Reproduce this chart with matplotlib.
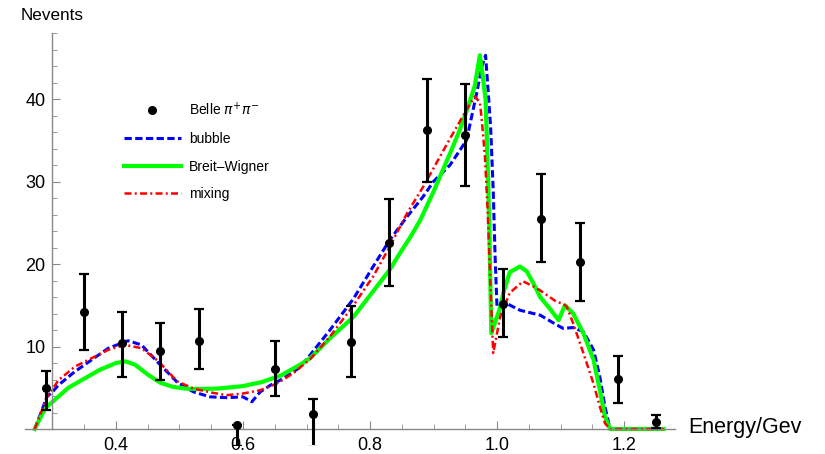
import numpy as np
import matplotlib.pyplot as plt
from matplotlib.ticker import MultipleLocator


#(0) Data:
# Belle pi+ pi- events with (lower, upper) errors
belle_E   = [0.29, 0.35, 0.41, 0.47, 0.53, 0.59, 0.65, 0.71, 0.77, 0.83, 0.89,
             0.95, 1.01, 1.07, 1.13, 1.19, 1.25]
belle_N   = [5.0, 14.2, 10.4, 9.4, 10.7, 0.5, 7.3, 1.8, 10.6, 22.6, 36.2,
             35.6, 15.2, 25.5, 20.2, 6.1, 0.9]
belle_lo  = [2.7, 4.6, 4.1, 3.5, 3.4, 2.6, 3.3, 4.0, 4.3, 5.3, 6.3,
             6.2, 4.1, 5.2, 4.7, 2.9, 0.8]
belle_hi  = [2.0, 4.6, 3.8, 3.5, 3.9, 0.0, 3.4, 1.8, 4.3, 5.3, 6.2,
             6.2, 4.2, 5.4, 4.8, 2.7, 0.8]

# bubble model
bubble_E  = [0.272, 0.285, 0.291, 0.300, 0.309, 0.335, 0.362, 0.388, 0.419,
             0.440, 0.467, 0.496, 0.522, 0.548, 0.575, 0.600, 0.614, 0.627,
             0.643, 0.663, 0.690, 0.706, 0.737, 0.774, 0.805, 0.831, 0.858,
             0.884, 0.900, 0.926, 0.952, 0.968, 0.976, 0.982, 0.986, 0.990,
             0.994, 0.997, 1.000, 1.013, 1.036, 1.068, 1.090, 1.104, 1.120,
             1.136, 1.152, 1.162, 1.170, 1.178, 1.262]
bubble_N  = [0.0, 2.6, 3.9, 4.5, 5.3, 6.95, 8.4, 9.8, 10.7,
             10.2, 8.0, 5.7, 4.5, 3.9, 3.8, 3.9, 3.3, 4.5,
             5.3, 6.1, 7.5, 9.0, 12.0, 15.8, 19.7, 22.9, 25.7,
             28.2, 30.0, 32.0, 35.0, 40.7, 43.9, 45.3, 41.0, 36.5,
             29.0, 20.9, 14.8, 15.3, 14.4, 13.8, 12.8, 12.2, 12.3,
             11.8, 9.6, 6.3, 2.7, 0.0, 0.0]

# Breit-Wigner model
bw_E      = [0.272, 0.285, 0.291, 0.300, 0.325, 0.350, 0.375, 0.400, 0.415,
             0.430, 0.450, 0.470, 0.490, 0.510, 0.530, 0.560, 0.600, 0.630,
             0.660, 0.690, 0.706, 0.737, 0.774, 0.800, 0.831, 0.847, 0.863,
             0.879, 0.899, 0.912, 0.926, 0.940, 0.952, 0.965, 0.973, 0.978,
             0.982, 0.986, 0.988, 0.991, 1.004, 1.010, 1.020, 1.036, 1.047,
             1.057, 1.068, 1.083, 1.097, 1.107, 1.120, 1.136, 1.152, 1.162,
             1.170, 1.178, 1.262]
bw_N      = [0.0, 2.0, 2.7, 3.3, 5.0, 6.1, 7.2, 8.0, 8.2,
             7.8, 6.6, 5.6, 5.1, 4.9, 4.85, 4.9, 5.2, 5.7,
             6.5, 7.8, 8.6, 11.0, 13.6, 16.2, 19.3, 21.3, 23.2,
             25.3, 28.6, 30.9, 33.4, 36.0, 38.5, 41.6, 45.3, 42.5,
             39.9, 30.2, 24.0, 11.6, 14.5, 16.5, 19.0, 19.7, 19.1,
             17.7, 16.0, 14.6, 13.2, 15.0, 14.0, 11.6, 8.4, 4.7,
             1.5, 0.0, 0.0]

# mixing model
mix_E     = [0.272, 0.285, 0.291, 0.300, 0.309, 0.325, 0.335, 0.362, 0.388,
             0.414, 0.440, 0.467, 0.496, 0.522, 0.548, 0.574, 0.600, 0.627,
             0.653, 0.679, 0.706, 0.737, 0.774, 0.805, 0.831, 0.858, 0.884,
             0.900, 0.926, 0.952, 0.965, 0.973, 0.976, 0.981, 0.985, 0.989,
             0.994, 1.005, 1.020, 1.041, 1.057, 1.068, 1.094, 1.104, 1.110,
             1.120, 1.136, 1.152, 1.162, 1.170, 1.178, 1.262]
mix_N     = [0.0, 2.6, 3.9, 4.8, 5.9, 6.9, 7.55, 8.6, 9.6,
             10.2, 9.8, 8.2, 5.8, 4.9, 4.45, 4.1, 4.3, 4.7,
             5.5, 6.75, 8.5, 11.2, 15.0, 18.5, 22.1, 26.1, 29.4,
             31.6, 35.2, 38.7, 40.3, 39.6, 37.5, 33.0, 26.9, 18.9,
             9.2, 13.6, 16.5, 17.9, 17.3, 16.8, 15.4, 15.2, 14.8,
             12.8, 9.2, 5.5, 2.7, 0.7, 0.0, 0.0]


#(1) Plot:
plt.close('all')
plt.rcParams['font.family'] = ['Liberation Sans', 'DejaVu Sans']
fig = plt.figure(figsize=(8.25, 4.54), dpi=100)
ax  = fig.add_axes([25/825, 1-444.7/454, 650/825, (444.7-33)/454])

ax.plot(bubble_E, bubble_N, color='#0000ff', lw=2.2, dashes=(2.4, 1.1), label='bubble')
ax.plot(bw_E, bw_N, color='#00ff00', lw=3.0, label='Breit\u2013Wigner')
ax.plot(mix_E, mix_N, color='#ff0000', lw=1.8, dashes=(2.8, 1.3, 0.8, 1.3), label='mixing')

ax.errorbar(belle_E, belle_N, yerr=[belle_lo, belle_hi], fmt='none',
            ecolor='k', elinewidth=2.2, capsize=3.5, capthick=1.6, zorder=5)
ax.plot(belle_E, belle_N, 'o', color='k', ms=5.5, zorder=6,
        label=r'Belle $\pi^{+}\pi^{-}$')

ax.set_xlim(0.2567, 1.2803)
ax.set_ylim(-1.9, 48)
ax.spines['left'].set_position(('data', 0.3))
ax.spines['bottom'].set_position(('data', 0))
ax.spines['left'].set_bounds(0, 48)
for s in ['top', 'right']:
    ax.spines[s].set_visible(False)
for s in ['left', 'bottom']:
    ax.spines[s].set_color('#888888')
    ax.spines[s].set_linewidth(1.0)

ax.set_xticks([0.4, 0.6, 0.8, 1.0, 1.2])
ax.set_xticklabels(['0.4', '0.6', '0.8', '1.0', '1.2'])
ax.xaxis.set_minor_locator(MultipleLocator(0.05))
ax.set_yticks([10, 20, 30, 40])
ax.set_yticks([t for t in range(2, 49, 2) if t % 10], minor=True)
ax.tick_params(which='both', direction='in', color='#888888', labelsize=13)
ax.tick_params(which='major', length=6)
ax.tick_params(which='minor', length=3.5)
ax.tick_params(axis='x', pad=6)
ax.tick_params(axis='y', pad=5)

h, l = ax.get_legend_handles_labels()
order = [3, 0, 1, 2]
ax.legend([h[i] for i in order], [l[i] for i in order],
          loc='upper left', bbox_to_anchor=(124/825, 1-101/454),
          bbox_transform=fig.transFigure, frameon=False, borderpad=0,
          borderaxespad=0, handlelength=4.1, handletextpad=0.6,
          labelspacing=0.98, numpoints=1, fontsize=10)

fig.text(21/825, 1-15/454, 'Nevents', size=12.3, va='center')
fig.text(688/825, 1-427/454, 'Energy/Gev', size=15.5, va='center')

fig.savefig('out.png', dpi=100)
